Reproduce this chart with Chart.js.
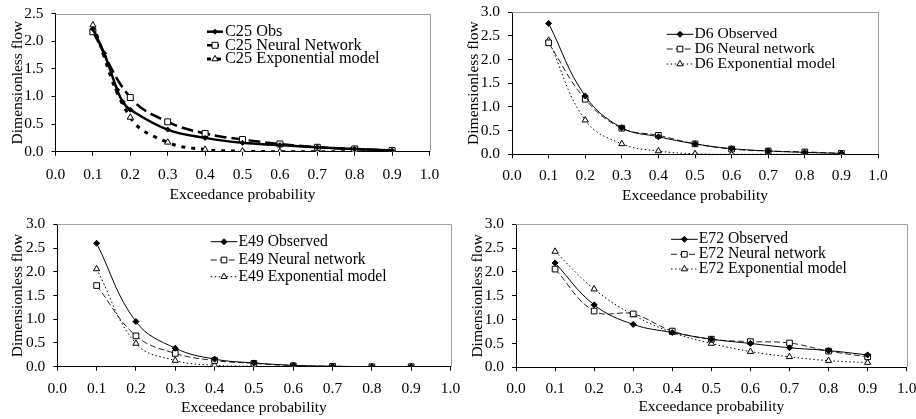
<!DOCTYPE html>
<html><head><meta charset="utf-8">
<script src="https://cdn.jsdelivr.net/npm/chart.js@4/dist/chart.umd.min.js"></script>
<style>
html,body{margin:0;padding:0;background:#fff;}
#wrap{position:relative;width:916px;height:419px;overflow:hidden;background:#fff;}
canvas{position:absolute;}
</style></head>
<body><div id="wrap">
<canvas id="c1" width="458" height="209" style="left:0;top:0"></canvas>
<canvas id="c3" width="470" height="214" style="left:0;top:205px"></canvas>
<canvas id="c2" width="460" height="209" style="left:456px;top:0"></canvas>
<canvas id="c4" width="460" height="214" style="left:456px;top:205px"></canvas>
</div>
<script>
// ---- data ----
const probs = [0.1,0.2,0.3,0.4,0.5,0.6,0.7,0.8,0.9];
const xTickValues = [0,0.1,0.2,0.3,0.4,0.5,0.6,0.7,0.8,0.9,1.0];
const xTickLabels = ['0.0','0.1','0.2','0.3','0.4','0.5','0.6','0.7','0.8','0.9','1.0'];
const yTicks25 = [0,0.5,1.0,1.5,2.0,2.5];
const yTicks30 = [0,0.5,1.0,1.5,2.0,2.5,3.0];

const c25ObsProbs = [0.1,0.13,0.165,0.18,0.2,0.3,0.4,0.5,0.6,0.7,0.8,0.9];
const c25Obs = [2.22,1.78,1.12,0.90,0.76,0.40,0.25,0.16,0.12,0.08,0.05,0.02];
const c25NN  = [2.17,0.98,0.54,0.33,0.22,0.14,0.08,0.05,0.02];
const c25Exp = [2.29,0.62,0.17,0.04,0.01,0.00,0.00,0.00,0.00];

const d6Obs = [2.76,1.23,0.56,0.37,0.22,0.12,0.07,0.04,0.02];
const d6NN  = [2.35,1.16,0.55,0.40,0.22,0.11,0.07,0.05,0.02];
const d6Exp = [2.40,0.72,0.22,0.07,0.01,0.00,0.00,0.00,0.00];

const e49Obs = [2.60,0.95,0.39,0.16,0.08,0.03,0.01,0.00,0.00];
const e49NN  = [1.71,0.65,0.28,0.13,0.07,0.02,0.01,0.00,0.00];
const e49Exp = [2.06,0.49,0.13,0.03,0.01,0.00,0.00,0.00,0.00];

const e72Obs = [2.19,1.31,0.90,0.73,0.59,0.50,0.41,0.35,0.26];
const e72NN  = [2.06,1.18,1.12,0.76,0.59,0.54,0.51,0.34,0.22];
const e72Exp = [2.43,1.64,1.10,0.73,0.50,0.33,0.22,0.14,0.10];

const namesC25 = ['C25 Obs','C25 Neural Network','C25 Exponential model'];
const namesD6  = ['D6 Observed','D6 Neural network','D6 Exponential model'];
const namesE49 = ['E49 Observed','E49 Neural network','E49 Exponential model'];
const namesE72 = ['E72 Observed','E72 Neural network','E72 Exponential model'];

// ---- helpers ----
const pts = (xs, ys) => ys.map((y,i) => ({x: xs[i], y: y}));
const FONT = '"Liberation Serif","Times New Roman",serif';

const framePlugin = {
  id: 'frame',
  beforeDatasetsDraw(chart) {
    const {ctx, chartArea: a} = chart;
    ctx.save();
    ctx.strokeStyle = '#a0a0a0';
    ctx.lineWidth = 1;
    ctx.beginPath();
    ctx.moveTo(a.left, Math.round(a.top) + 0.5);
    ctx.lineTo(Math.round(a.right) + 0.5, Math.round(a.top) + 0.5);
    ctx.lineTo(Math.round(a.right) + 0.5, a.bottom);
    ctx.stroke();
    ctx.restore();
  }
};

const legendPlugin = {
  id: 'boxLegend',
  afterDraw(chart, args, opts) {
    const ctx = chart.ctx;
    ctx.save();
    chart.data.datasets.forEach((ds, i) => {
      const y = opts.rows[i];
      ctx.setLineDash(ds.borderDash || []);
      ctx.lineWidth = ds.borderWidth;
      ctx.strokeStyle = ds.borderColor;
      ctx.beginPath();
      ctx.moveTo(opts.x0, y);
      ctx.lineTo(opts.x1, y);
      ctx.stroke();
      ctx.setLineDash([]);
      ctx.fillStyle = ds.pointBackgroundColor;
      ctx.strokeStyle = ds.pointBorderColor;
      ctx.lineWidth = ds.pointBorderWidth;
      Chart.helpers.drawPoint(ctx, {pointStyle: ds.pointStyle, radius: ds.pointRadius, borderWidth: ds.pointBorderWidth, rotation: 0}, (opts.x0 + opts.x1) / 2, y);
      ctx.fillStyle = '#000';
      ctx.font = opts.size + 'px ' + FONT;
      ctx.textBaseline = 'middle';
      ctx.textAlign = 'left';
      ctx.fillText(ds.label, opts.tx, y);
    });
    ctx.restore();
  }
};

function makeDatasets(names, series, styles) {
  return series.map((s, i) => Object.assign({
    label: names[i],
    data: s,
    borderColor: '#000',
    pointBorderColor: '#000',
    pointBorderWidth: 1,
    tension: 0.4,
    fill: false
  }, styles[i]));
}

const thinStyles = [
  {borderWidth: 1, borderDash: [], pointStyle: 'rectRot', pointRadius: 3, pointBackgroundColor: '#000'},
  {borderWidth: 1, borderDash: [6,3], borderColor: '#222', pointStyle: 'rect', pointRadius: 4, pointBackgroundColor: '#fff'},
  {borderWidth: 1, borderDash: [1.5,2.5], pointStyle: 'triangle', pointRadius: 3.6, pointBackgroundColor: '#fff'}
];
const thickStyles = [
  {borderWidth: 2.5, borderDash: [], pointStyle: 'rectRot', pointRadius: 2.5, pointBackgroundColor: '#000'},
  {borderWidth: 2.5, borderDash: [12,5], pointStyle: 'rect', pointRadius: 4.2, pointBackgroundColor: '#fff'},
  {borderWidth: 3, borderDash: [4,6], pointStyle: 'triangle', pointRadius: 3.6, pointBackgroundColor: '#fff'}
];

function makeChart(id, p) {
  const tickFont = {family: FONT, size: 15.5};
  const titleFont = {family: FONT, size: 15.5};
  return new Chart(document.getElementById(id), {
    type: 'line',
    data: {datasets: p.datasets},
    options: {
      responsive: false,
      animation: false,
      events: [],
      layout: {padding: p.padding},
      plugins: {
        legend: {display: false},
        tooltip: {enabled: false},
        boxLegend: p.legend
      },
      scales: {
        x: {
          type: 'linear', min: 0, max: 1,
          afterBuildTicks: s => { s.ticks = xTickValues.map(v => ({value: v})); },
          afterFit: s => { s.height = p.xH; s.paddingLeft = 0; s.paddingRight = 0; },
          ticks: {font: tickFont, color: '#000', padding: p.xTickPad, maxRotation: 0, autoSkip: false,
                  callback: (v, i) => xTickLabels[i]},
          grid: {drawOnChartArea: false, drawTicks: true, tickLength: 4, color: '#000'},
          border: {display: true, color: '#000', width: 1},
          title: {display: true, text: 'Exceedance probability', font: titleFont, color: '#000', padding: {top: 0, bottom: p.xTitlePad}}
        },
        y: {
          min: 0, max: p.yTicks[p.yTicks.length - 1],
          afterBuildTicks: s => { s.ticks = p.yTicks.map(v => ({value: v})); },
          afterFit: s => { s.width = 50; s.paddingTop = 0; s.paddingBottom = 0; },
          ticks: {font: tickFont, color: '#000', padding: 8, autoSkip: false,
                  callback: v => v.toFixed(1)},
          grid: {drawOnChartArea: false, drawTicks: true, tickLength: 4, color: '#000'},
          border: {display: true, color: '#000', width: 1},
          title: {display: true, text: 'Dimensionless flow', font: titleFont, color: '#000', padding: {top: p.yTitlePad, bottom: 0}}
        }
      }
    },
    plugins: [framePlugin, legendPlugin]
  });
}

makeChart('c1', {
  datasets: makeDatasets(namesC25, [pts(c25ObsProbs, c25Obs), pts(probs, c25NN), pts(probs, c25Exp)], thickStyles),
  yTicks: yTicks25,
  padding: {left: 5.5, right: 28.5, top: 13.5, bottom: 4.3},
  xH: 53, xTickPad: 9.5, xTitlePad: 0, yTitlePad: 3,
  legend: {x0: 207, x1: 223, tx: 225, rows: [31.7, 45.3, 59], size: 16.3}
});
makeChart('c2', {
  datasets: makeDatasets(namesD6, [pts(probs, d6Obs), pts(probs, d6NN), pts(probs, d6Exp)], thinStyles),
  yTicks: yTicks30,
  padding: {left: 6, right: 38, top: 12, bottom: 2.7},
  xH: 52, xTickPad: 8, xTitlePad: 1.5, yTitlePad: 3,
  legend: {x0: 210.7, x1: 237.3, tx: 238.5, rows: [34.3, 49, 64], size: 15.6}
});
makeChart('c3', {
  datasets: makeDatasets(namesE49, [pts(probs, e49Obs), pts(probs, e49NN), pts(probs, e49Exp)], thinStyles),
  yTicks: yTicks30,
  padding: {left: 7.3, right: 19.5, top: 19.3, bottom: 1.3},
  xH: 51, xTickPad: 8.5, xTitlePad: 0, yTitlePad: 1.7,
  legend: {x0: 210.7, x1: 237.3, tx: 238.5, rows: [36.7, 55, 71.7], size: 15.7}
});
makeChart('c4', {
  datasets: makeDatasets(namesE72, [pts(probs, e72Obs), pts(probs, e72NN), pts(probs, e72Exp)], thinStyles),
  yTicks: yTicks30,
  padding: {left: 10, right: 9.3, top: 19.3, bottom: 0.7},
  xH: 51, xTickPad: 8, xTitlePad: 2, yTitlePad: 2.4,
  legend: {x0: 215, x1: 241.7, tx: 242.7, rows: [34.3, 49.3, 64], size: 15.7}
});
</script>
</body></html>
